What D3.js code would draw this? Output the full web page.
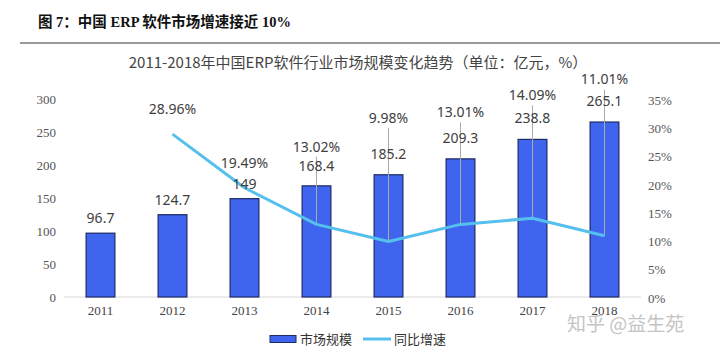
<!DOCTYPE html>
<html>
<head>
<meta charset="utf-8">
<script src="https://cdn.jsdelivr.net/npm/d3@7"></script>
<style>
  body { margin: 0; background: #fff; }
  svg { display: block; }
</style>
</head>
<body>
<div id="chart"></div>
<script>
// chart data
const years = ["2011", "2012", "2013", "2014", "2015", "2016", "2017", "2018"];
const marketSize = [96.7, 124.7, 149, 168.4, 185.2, 209.3, 238.8, 265.1];
const growth = [null, 28.96, 19.49, 13.02, 9.98, 13.01, 14.09, 11.01];
const leftTicks = [0, 50, 100, 150, 200, 250, 300];
const rightTicks = [0, 5, 10, 15, 20, 25, 30, 35];
// where the % label sits (value on the left axis)
const growthLabelAt = [null, 277, 196, 220, 264, 272, 298, 322];
const barLabelAt = [null, null, null, 191, 209, 233, 264, 290];

const width = 720, height = 353;

const svg = d3.select("#chart")
    .append("svg")
    .attr("width", width)
    .attr("height", height);

// header
svg.append("text")
    .attr("x", 38)
    .attr("y", 27)
    .style("font-family", "'Liberation Serif', 'Noto Sans CJK SC', serif")
    .style("font-weight", "bold")
    .style("font-size", "14.5px")
    .style("fill", "#111")
    .text("图 7：中国 ERP 软件市场增速接近 10%");

svg.append("line")
    .attr("x1", 20).attr("x2", 720)
    .attr("y1", 43).attr("y2", 43)
    .attr("stroke", "#777")
    .attr("stroke-width", 1.5);

svg.append("text")
    .attr("x", 358)
    .attr("y", 68)
    .attr("text-anchor", "middle")
    .style("font-family", "'Noto Sans CJK SC', sans-serif")
    .style("font-size", "15px")
    .style("fill", "#444")
    .text("2011-2018年中国ERP软件行业市场规模变化趋势（单位：亿元，%）");

const x = d3.scaleBand()
    .domain(years)
    .range([64.5, 640.5])
    .paddingInner(0.6)
    .paddingOuter(0.3);

const y = d3.scaleLinear().domain([0, 300]).range([297, 99]);
const y2 = d3.scaleLinear().domain([0, 35]).range([298, 100]);

const serif = "'Liberation Serif', 'Times New Roman', serif";
const sans = "'Noto Sans CJK SC', 'Noto Sans', sans-serif";
const numFont = "'Noto Sans', 'Open Sans', sans-serif";

// left axis
const leftAxis = svg.append("g")
    .attr("transform", "translate(56,0)")
    .call(d3.axisLeft(y).tickValues(leftTicks).tickSize(0).tickPadding(0));
leftAxis.select(".domain").remove();
leftAxis.selectAll(".tick text")
    .style("font-family", serif)
    .style("font-size", "13px")
    .style("fill", "#555");

// right axis
const rightAxis = svg.append("g")
    .attr("transform", "translate(648,0)")
    .call(d3.axisRight(y2).tickValues(rightTicks).tickSize(0).tickPadding(0)
        .tickFormat(d => d + "%"));
rightAxis.select(".domain").remove();
rightAxis.selectAll(".tick text")
    .style("font-family", serif)
    .style("font-size", "13px")
    .style("fill", "#555");

// bottom axis
const bottomAxis = svg.append("g")
    .attr("transform", "translate(0,297)")
    .call(d3.axisBottom(x).tickSize(0).tickPadding(9));
bottomAxis.select(".domain")
    .attr("d", "M64,0H641")
    .attr("stroke", "#d9d9d9")
    .attr("stroke-width", 1);
bottomAxis.selectAll(".tick text")
    .style("font-family", serif)
    .style("font-size", "13px")
    .style("fill", "#444");

// bars
svg.selectAll(".bar")
    .data(years)
    .enter()
    .append("rect")
    .attr("class", "bar")
    .attr("x", d => x(d))
    .attr("y", (d, i) => y(marketSize[i]))
    .attr("width", x.bandwidth())
    .attr("height", (d, i) => y(0) - y(marketSize[i]))
    .attr("fill", "#3f64ee")
    .attr("stroke", "#1c2b63")
    .attr("stroke-width", 1.2);

const cx = d => x(d) + x.bandwidth() / 2;

// leader lines from % labels down to the line
years.forEach((yr, i) => {
    if (i < 3) return;
    svg.append("line")
        .attr("x1", cx(yr)).attr("x2", cx(yr))
        .attr("y1", y(growthLabelAt[i]) + 5)
        .attr("y2", y2(growth[i]))
        .attr("stroke", "#aaa")
        .attr("stroke-width", 1);
});

// growth line
const lineData = years.map((yr, i) => ({ yr, v: growth[i] })).filter(d => d.v !== null);
svg.append("path")
    .datum(lineData)
    .attr("fill", "none")
    .attr("stroke", "#55c0ee")
    .attr("stroke-width", 3)
    .attr("stroke-linejoin", "round")
    .attr("d", d3.line().x(d => cx(d.yr)).y(d => y2(d.v)));

// bar value labels
svg.selectAll(".barLabel")
    .data(years)
    .enter()
    .append("text")
    .attr("x", d => cx(d))
    .attr("y", (d, i) => barLabelAt[i] !== null ? y(barLabelAt[i]) : y(marketSize[i]) - 10)
    .attr("text-anchor", "middle")
    .style("font-family", numFont)
    .style("font-size", "14px")
    .style("fill", "#404040")
    .text((d, i) => marketSize[i]);

// growth labels
svg.selectAll(".growthLabel")
    .data(years.filter((d, i) => growth[i] !== null))
    .enter()
    .append("text")
    .attr("x", d => cx(d))
    .attr("y", d => y(growthLabelAt[years.indexOf(d)]))
    .attr("text-anchor", "middle")
    .style("font-family", numFont)
    .style("font-size", "14px")
    .style("fill", "#404040")
    .text(d => growth[years.indexOf(d)].toFixed(2) + "%");

// legend
const legend = svg.append("g").attr("transform", "translate(270,339)");
legend.append("rect")
    .attr("x", 0).attr("y", -3.5)
    .attr("width", 26).attr("height", 7)
    .attr("fill", "#3f64ee")
    .attr("stroke", "#1c2b63");
legend.append("text")
    .attr("x", 30).attr("y", 5)
    .style("font-family", sans)
    .style("font-size", "13px")
    .style("fill", "#333")
    .text("市场规模");
legend.append("line")
    .attr("x1", 93).attr("x2", 121)
    .attr("y1", 0).attr("y2", 0)
    .attr("stroke", "#55c0ee")
    .attr("stroke-width", 3);
legend.append("text")
    .attr("x", 124).attr("y", 5)
    .style("font-family", sans)
    .style("font-size", "13px")
    .style("fill", "#333")
    .text("同比增速");

// watermark
svg.append("text")
    .attr("x", 567)
    .attr("y", 331)
    .style("font-family", sans)
    .style("font-size", "19px")
    .style("fill", "#c4c4c4")
    .text("知乎 @益生苑");
</script>
</body>
</html>
